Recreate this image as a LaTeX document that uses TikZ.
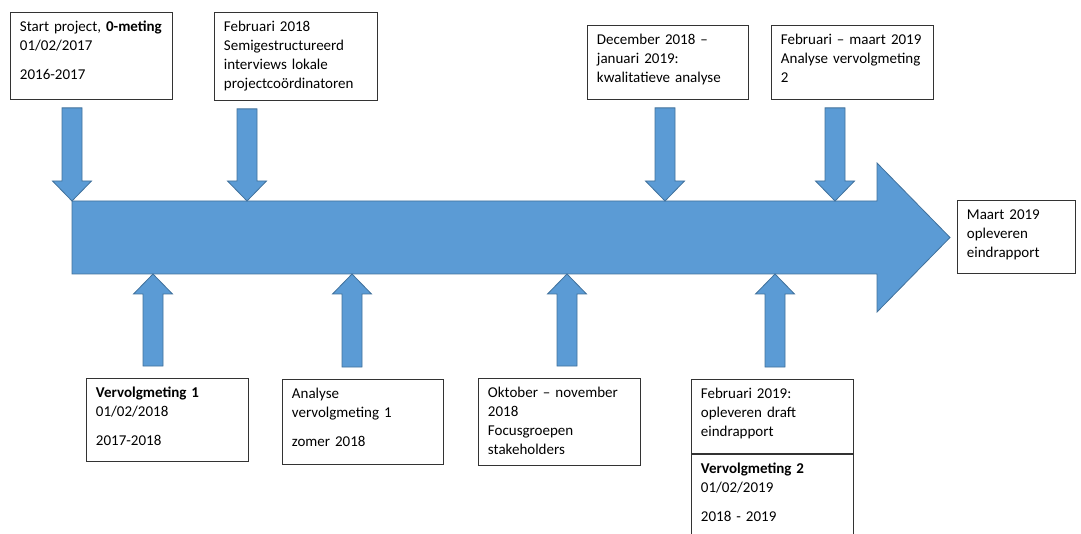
\documentclass[tikz,border=0pt]{standalone}
\usepackage{fontspec}
\setmainfont{Carlito}
\usetikzlibrary{calc}
\definecolor{pijlblauw}{HTML}{5B9BD5}
\definecolor{pijlrand}{HTML}{41719C}
\newcommand\tekst{\fontsize{15}{19}\selectfont}
% blokpijl: #1 = begin (midden van de schacht), #2 = punt
\newcommand\blokpijl[2]{%
  \filldraw[pijl] let \p1=(#1), \p2=(#2), \n1={sign(\y1-\y2)} in
    (\x1-10pt,\y1) -- (\x1-10pt,\y2+20pt*\n1) -- (\x1-19.5pt,\y2+20pt*\n1) -- (\x1,\y2)
    -- (\x1+19.5pt,\y2+20pt*\n1) -- (\x1+10pt,\y2+20pt*\n1) -- (\x1+10pt,\y1) -- cycle;}
\tikzset{
  pijl/.style={fill=pijlblauw, draw=pijlrand, line width=0.8pt, line join=miter},
  doos/.style 2 args={draw=black!80, line width=0.9pt, anchor=north west,
    inner xsep=9.5pt, inner ysep=5pt, text width=#1-19pt, text height=14pt,
    text depth=#2-24pt, align=left, font=\tekst}
}
\begin{document}
\begin{tikzpicture}[x=1pt,y=-1pt]
\useasboundingbox (0,0) rectangle (1081,534);
\clip (0,0) rectangle (1081,534);

% tijdlijn
\filldraw[pijl] (72,201) -- (877,201) -- (877,163) -- (950,237.5) -- (877,312)
  -- (877,274) -- (72,274) -- cycle;
\coordinate (p1) at (72,201);
\coordinate (p2) at (247,201);
\coordinate (p3) at (665,201);
\coordinate (p4) at (835,201);
\coordinate (q1) at (153,274);
\coordinate (q2) at (352,274);
\coordinate (q3) at (567,274);
\coordinate (q4) at (775,274);

% boven
\node[doos={162pt}{87pt}] (b1) at (10,12)
  {Start project, \textbf{0-meting}\\01/02/2017\\[10pt]2016-2017};
\node[doos={163pt}{88pt}] (b2) at (214,12)
  {Februari 2018\\Semigestructureerd\\interviews lokale\\projectcoördinatoren};
\node[doos={161pt}{74pt}] (b3) at (587,25)
  {December 2018 –\\januari 2019:\\kwalitatieve analyse};
\node[doos={162pt}{74pt}] (b4) at (771,25)
  {Februari – maart 2019\\Analyse vervolgmeting\\2};
\node[doos={118pt}{73pt}] (b5) at (957,200)
  {Maart 2019\\opleveren\\eindrapport};

% onder
\node[doos={162pt}{83pt}] (b6) at (86,378)
  {\textbf{Vervolgmeting 1}\\01/02/2018\\[10pt]2017-2018};
\node[doos={161pt}{85pt}] (b7) at (282,379)
  {Analyse\\vervolgmeting 1\\[10pt]zomer 2018};
\node[doos={162pt}{87pt}] (b8) at (478,378)
  {Oktober – november\\2018\\Focusgroepen\\stakeholders};
\node[doos={162pt}{74pt}] (b9) at (691,379)
  {Februari 2019:\\opleveren draft\\eindrapport};
\node[doos={162pt}{100pt}] (b10) at (b9.south west)
  {\textbf{Vervolgmeting 2}\\01/02/2019\\[10pt]2018 - 2019};

% pijlen naar de tijdlijn
\blokpijl{$(p1 |- b1.south)+(0,8)$}{p1}
\blokpijl{$(p2 |- b2.south)+(0,8)$}{p2}
\blokpijl{$(p3 |- b3.south)+(0,8)$}{p3}
\blokpijl{$(p4 |- b4.south)+(0,8)$}{p4}
\blokpijl{$(q1 |- b6.north)+(0,-12)$}{q1}
\blokpijl{$(q2 |- b7.north)+(0,-12)$}{q2}
\blokpijl{$(q3 |- b8.north)+(0,-12)$}{q3}
\blokpijl{$(q4 |- b9.north)+(0,-12)$}{q4}
\end{tikzpicture}
\end{document}
